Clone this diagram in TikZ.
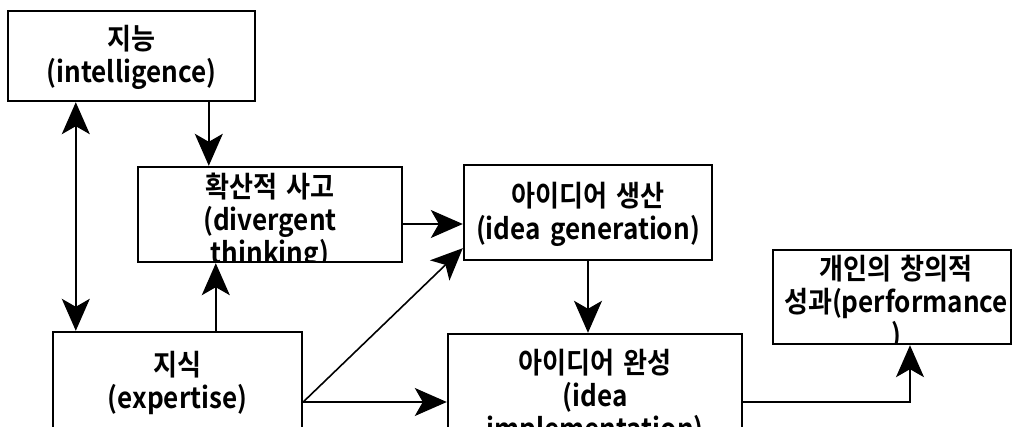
\documentclass[tikz,border=0pt]{standalone}
\usepackage{fontspec}
\setmainfont{Noto Sans CJK KR}[BoldFont=* Bold, FakeStretch=0.9, WordSpace=1.6]
\usetikzlibrary{arrows.meta}

\begin{document}
\begin{tikzpicture}[x=0.5pt, y=-0.5pt,
    >={Stealth[length=16pt, width=14pt, inset=4pt]},
    stagebox/.style={rectangle, draw=black, line width=1.2pt, inner sep=0pt},
    stagetext/.style={draw=none, align=center, inner sep=0pt,
        font=\fontsize{14.5}{16.5}\selectfont\bfseries},
    link/.style={draw=black, line width=0.8pt}]
    \useasboundingbox (0,0) rectangle (1014,427);
    \clip (0,0) rectangle (1014,427);

    \node (intel)[stagebox, minimum width=123.5pt, minimum height=45pt,
        path picture={\node[stagetext] at ([yshift=-0.5pt]path picture bounding box.center) {지능\\(intelligence)};}] at (131.5,56) {};
    \node (div)[stagebox, minimum width=132pt, minimum height=47.5pt,
        path picture={\node[stagetext] at ([yshift=-3.5pt]path picture bounding box.center) {확산적 사고\\(divergent\\thinking)};}] at (270,214.5) {};
    \node (gen)[stagebox, minimum width=124pt, minimum height=47.5pt,
        path picture={\node[stagetext] at ([yshift=-1pt]path picture bounding box.center) {아이디어 생산\\(idea generation)};}] at (588,212.5) {};
    \node (perf)[stagebox, minimum width=119pt, minimum height=47pt,
        path picture={\node[stagetext] at ([xshift=2pt, yshift=-3pt]path picture bounding box.center) {개인의 창의적\\성과(performance\\)};}] at (892,297) {};
    \node (exp)[stagebox, minimum width=124.5pt, minimum height=50pt,
        path picture={\node[stagetext] at ([yshift=-0.5pt]path picture bounding box.center) {지식\\(expertise)};}] at (177.5,382) {};
    \node (impl)[stagebox, minimum width=147pt, minimum height=49pt,
        path picture={\node[stagetext] at ([yshift=-7pt]path picture bounding box.center) {아이디어 완성\\(idea\\implementation)};}] at (595,383) {};

    \draw [link, <->] ([xshift=34.5pt]intel.south west) -- ([xshift=12pt]exp.north west);
    \draw [link, ->] ([xshift=101pt]intel.south west) -- ([xshift=36pt]div.north west);
    \draw [link, ->] ([xshift=82pt]exp.north west) -- ([xshift=39.5pt]div.south west);
    \draw [link, ->] ([yshift=-4.75pt]div.east) -- ([yshift=-5.75pt]gen.west);
    \draw [link, ->] ([yshift=-10pt]exp.east) -- ([yshift=6.5pt]gen.south west);
    \draw [link, ->] ([yshift=-10pt]exp.east) -- ([yshift=-9.5pt]impl.west);
    \draw [link, ->] (gen.south) -- ([xshift=-3.5pt]impl.north);
    \draw [link, ->] ([yshift=-9.5pt]impl.east) -| ([xshift=9pt]perf.south);
\end{tikzpicture}
\end{document}
